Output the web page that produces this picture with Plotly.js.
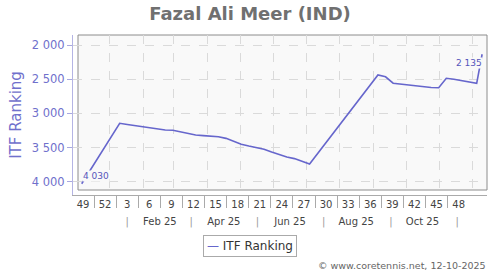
<!DOCTYPE html>
<html>
<head>
<meta charset="utf-8">
<script src="https://cdn.plot.ly/plotly-3.0.1.min.js"></script>
<style>html,body{margin:0;padding:0;background:#fff;}#chart{width:500px;height:270px;}</style>
</head>
<body>
<div id="chart"></div>
<script>
// ---- data ----
const dates = [
  '2024-12-06',
  '2025-01-10','2025-01-17','2025-01-24','2025-01-31','2025-02-07','2025-02-14','2025-02-21','2025-02-28',
  '2025-03-07','2025-03-14','2025-03-21','2025-03-28','2025-04-04','2025-04-11','2025-04-18','2025-04-25',
  '2025-05-02','2025-05-09','2025-05-16','2025-05-23','2025-05-30','2025-06-06','2025-06-13','2025-06-20',
  '2025-06-27','2025-07-04',
  '2025-09-05','2025-09-12','2025-09-19','2025-09-26','2025-10-03','2025-10-10','2025-10-17','2025-10-24',
  '2025-10-31','2025-11-07','2025-11-14','2025-11-21','2025-11-28','2025-12-05',
  '2025-12-10'
];
const ranks = [
  4030,
  3146,3162,3178,3194,3211,3229,3244,3248,
  3273,3299,3317,3326,3333,3342,3366,3409,
  3451,3478,3500,3525,3565,3606,3639,3662,
  3697,3741,
  2439,2465,2559,2573,2588,2600,2607,2622,
  2625,2487,2502,2519,2540,2562,
  2135
];
const yTicks = [2000, 2500, 3000, 3500, 4000];
const weekLabels = ['49','52','3','6','9','12','15','18','21','24','27','30','33','36','39','42','45','48'];
const monthLabels = ['Feb 25','Apr 25','Jun 25','Aug 25','Oct 25'];
const monthLabelDates = ['2025-02-16','2025-04-16','2025-06-16','2025-08-16','2025-10-16'];
const monthSepDates = ['2025-01-17','2025-03-17','2025-05-17','2025-07-17','2025-09-17','2025-11-17'];
const gridMonths = ['2025-01-01','2025-02-01','2025-03-01','2025-04-01','2025-05-01','2025-06-01',
                    '2025-07-01','2025-08-01','2025-09-01','2025-10-01','2025-11-01','2025-12-01'];
const seriesName = 'ITF Ranking';

// ---- helpers ----
const fmt = n => String(n).replace(/\B(?=(\d{3})+(?!\d))/g, ' ');
const DAY = 864e5;
const t0 = Date.UTC(2024, 11, 6);
const dateRange = [t0 - 8.02 * DAY, t0 + 373.5 * DAY];
const weekRange = [-1.358, 54.85];
const weekPos = weekLabels.map((_, k) => 3 * k);
const sepPos = weekLabels.slice(1).map((_, k) => 3 * k + 1.5);
const last = ranks.length - 1;
const FONT = 'DejaVu Sans';
const LINE = '#6666cc';

const trace = {
  x: dates, y: ranks, type: 'scatter', mode: 'lines', name: seriesName,
  line: {color: LINE, width: 1.6}, hoverinfo: 'skip'
};
// empty helper traces so that the overlaying label axes get drawn
const helper = (xa, xv) => ({x: [xv], y: [null], xaxis: xa, yaxis: 'y', type: 'scatter', mode: 'lines',
  showlegend: false, hoverinfo: 'skip', line: {width: 0}});

const baseX = {showgrid: false, zeroline: false, showline: false, fixedrange: true};

const layout = {
  width: 500, height: 270, autosize: false,
  margin: {l: 73, r: 13, t: 35, b: 75, pad: 0},
  paper_bgcolor: '#ffffff', plot_bgcolor: 'rgba(0,0,0,0)',
  font: {family: FONT, color: '#444'},
  showlegend: false,
  title: {text: 'Fazal Ali Meer (IND)', font: {family: FONT, size: 18, color: '#707070', weight: 'bold'},
          x: 0.5, xref: 'container', y: 1 - 14 / 270, yref: 'container', yanchor: 'middle', xanchor: 'center'},
  xaxis: Object.assign({}, baseX, {
    type: 'date', range: dateRange, tickmode: 'array', tickvals: gridMonths,
    showticklabels: false, ticks: '', showgrid: true, gridcolor: '#dadada', griddash: 'dash', gridwidth: 1,
    showline: true, linecolor: '#aaaaaa', linewidth: 1
  }),
  xaxis2: Object.assign({}, baseX, {
    type: 'linear', overlaying: 'x', anchor: 'y', side: 'bottom', range: weekRange, autorange: false,
    tickmode: 'array', tickvals: weekPos, ticktext: weekLabels, ticks: '',
    tickfont: {family: FONT, size: 10, color: '#444'}, ticklabelstandoff: 2
  }),
  xaxis3: Object.assign({}, baseX, {
    type: 'linear', overlaying: 'x', anchor: 'y', side: 'bottom', range: weekRange, autorange: false,
    tickmode: 'array', tickvals: sepPos, ticks: 'outside', ticklen: 12, tickwidth: 1, tickcolor: '#aaaaaa',
    showticklabels: false
  }),
  xaxis4: Object.assign({}, baseX, {
    type: 'date', overlaying: 'x', anchor: 'y', side: 'bottom', range: dateRange, autorange: false,
    tickmode: 'array', tickvals: monthLabelDates, ticktext: monthLabels, ticks: '',
    tickfont: {family: FONT, size: 10, color: '#444'}, ticklabelstandoff: 19
  }),
  xaxis5: Object.assign({}, baseX, {
    type: 'date', overlaying: 'x', anchor: 'y', side: 'bottom', range: dateRange, autorange: false,
    tickmode: 'array', tickvals: monthSepDates, ticktext: monthSepDates.map(() => '|'), ticks: '',
    tickfont: {family: FONT, size: 10, color: '#999999'}, ticklabelstandoff: 19
  }),
  yaxis: {
    range: [4194.6, 1853.7], tickmode: 'array', tickvals: yTicks, ticktext: yTicks.map(fmt),
    ticks: 'outside', ticklen: 5, tickwidth: 1, tickcolor: '#a8a8e0',
    showline: true, linecolor: '#b4b4e4', linewidth: 1,
    showgrid: true, gridcolor: '#dadada', griddash: 'dash', gridwidth: 1, zeroline: false, fixedrange: true,
    tickfont: {family: FONT, size: 11.5, color: '#7070cc'},
    title: {text: seriesName, font: {family: FONT, size: 15, color: '#7070cc'}, standoff: 6}
  },
  shapes: [{
    type: 'rect', xref: 'paper', yref: 'paper', x0: 5 / 414, x1: 1, y0: 5 / 160, y1: 1,
    line: {color: '#8c8c8c', width: 1}, fillcolor: '#f9f9f9', layer: 'below'
  }],
  annotations: [
    {x: dates[0], y: ranks[0], xref: 'x', yref: 'y', text: fmt(ranks[0]), showarrow: false,
     xanchor: 'left', yanchor: 'middle', xshift: 0, yshift: 8,
     font: {family: FONT, size: 9, color: '#5555bb'}, bgcolor: '#f9f9f9', borderpad: 0},
    {x: dates[last], y: ranks[last], xref: 'x', yref: 'y', text: fmt(ranks[last]), showarrow: false,
     xanchor: 'right', yanchor: 'middle', xshift: 1, yshift: -9,
     font: {family: FONT, size: 9, color: '#5555bb'}, bgcolor: '#f9f9f9', borderpad: 0},
    {x: (250 - 73) / 414, y: (195 - 246) / 160, xref: 'paper', yref: 'paper', showarrow: false,
     xanchor: 'center', yanchor: 'middle',
     text: '<span style="color:' + LINE + '">—</span> ' + seriesName,
     font: {family: FONT, size: 12, color: '#333'}, bordercolor: '#aaaaaa', borderwidth: 1, borderpad: 3,
     bgcolor: '#ffffff'},
    {x: (488 - 73) / 414, y: (195 - 265) / 160, xref: 'paper', yref: 'paper', showarrow: false,
     xanchor: 'right', yanchor: 'middle', text: '© www.coretennis.net, 12-10-2025',
     font: {family: FONT, size: 9.5, color: '#666'}}
  ]
};

const traces = [
  helper('x2', weekPos[0]), helper('x3', sepPos[0]),
  helper('x4', monthLabelDates[0]), helper('x5', monthSepDates[0]),
  trace
];

Plotly.newPlot('chart', traces, layout, {staticPlot: true, displayModeBar: false});
</script>
</body>
</html>
